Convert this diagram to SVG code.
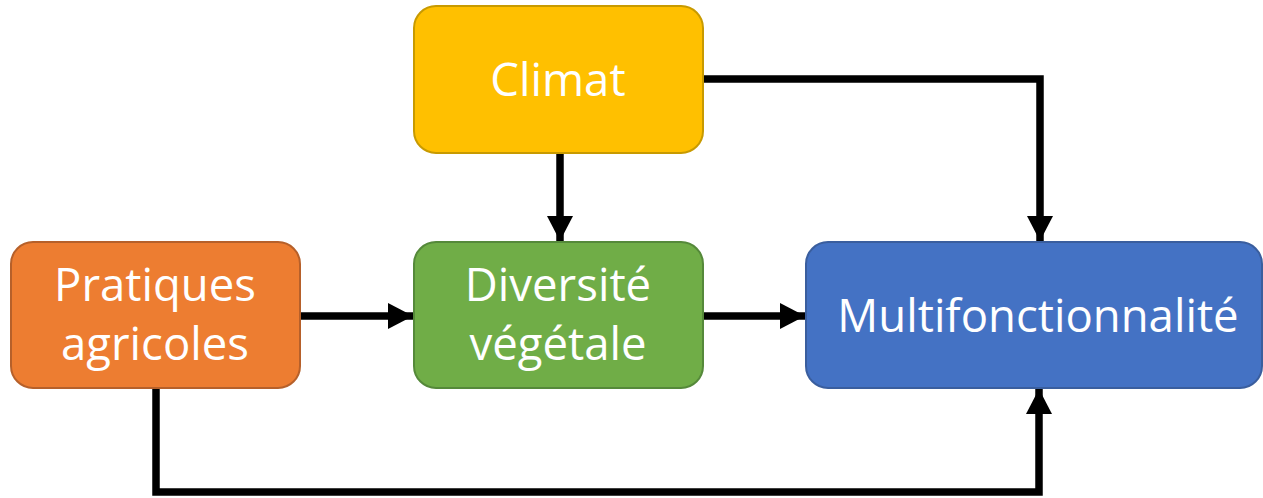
<svg xmlns="http://www.w3.org/2000/svg" width="1263" height="498" viewBox="0 0 1263 498">
  <style>
    .box { stroke-width: 2; }
    .lbl { font-family: "Open Sans", "Liberation Sans", sans-serif; font-size: 45.5px; fill: #ffffff; text-anchor: middle; }
    .wire { fill: none; stroke: #000000; stroke-width: 7.5; stroke-linejoin: miter; }
  </style>
  <defs>
    <marker id="arrow" markerUnits="userSpaceOnUse" markerWidth="28" markerHeight="28" refX="25" refY="13" orient="auto">
      <path d="M0,0 L25,13 L0,26 Z" fill="#000000"/>
    </marker>
  </defs>

  <g id="connectors">
    <!-- Climat to Multifonctionnalité -->
    <path class="wire" d="M703,79 H1040 V241" marker-end="url(#arrow)"/>
    <!-- Climat to Diversité végétale -->
    <path class="wire" d="M560,153 V241" marker-end="url(#arrow)"/>
    <!-- Pratiques agricoles to Diversité végétale -->
    <path class="wire" d="M300,316 H413" marker-end="url(#arrow)"/>
    <!-- Diversité végétale to Multifonctionnalité -->
    <path class="wire" d="M703,316 H805" marker-end="url(#arrow)"/>
    <!-- Pratiques agricoles to Multifonctionnalité -->
    <path class="wire" d="M156,388 V492 H1039 V389" marker-end="url(#arrow)"/>
  </g>

  <g id="climat">
    <rect class="box" x="414" y="6" width="289" height="147" rx="22" fill="#FFC000" stroke="#C89A00"/>
    <text class="lbl" x="558" y="96">Climat</text>
  </g>

  <g id="pratiques">
    <rect class="box" x="11" y="242" width="289" height="146" rx="22" fill="#ED7D31" stroke="#B6602A"/>
    <text class="lbl" x="155" y="301">Pratiques</text>
    <text class="lbl" x="155" y="360">agricoles</text>
  </g>

  <g id="diversite">
    <rect class="box" x="414" y="242" width="289" height="146" rx="22" fill="#70AD47" stroke="#55893A"/>
    <text class="lbl" x="558" y="301">Diversité</text>
    <text class="lbl" x="558" y="360">végétale</text>
  </g>

  <g id="multifonctionnalite">
    <rect class="box" x="806" y="242" width="456" height="146" rx="22" fill="#4472C4" stroke="#3A5E9E"/>
    <text class="lbl" x="1038" y="332">Multifonctionnalité</text>
  </g>
</svg>
